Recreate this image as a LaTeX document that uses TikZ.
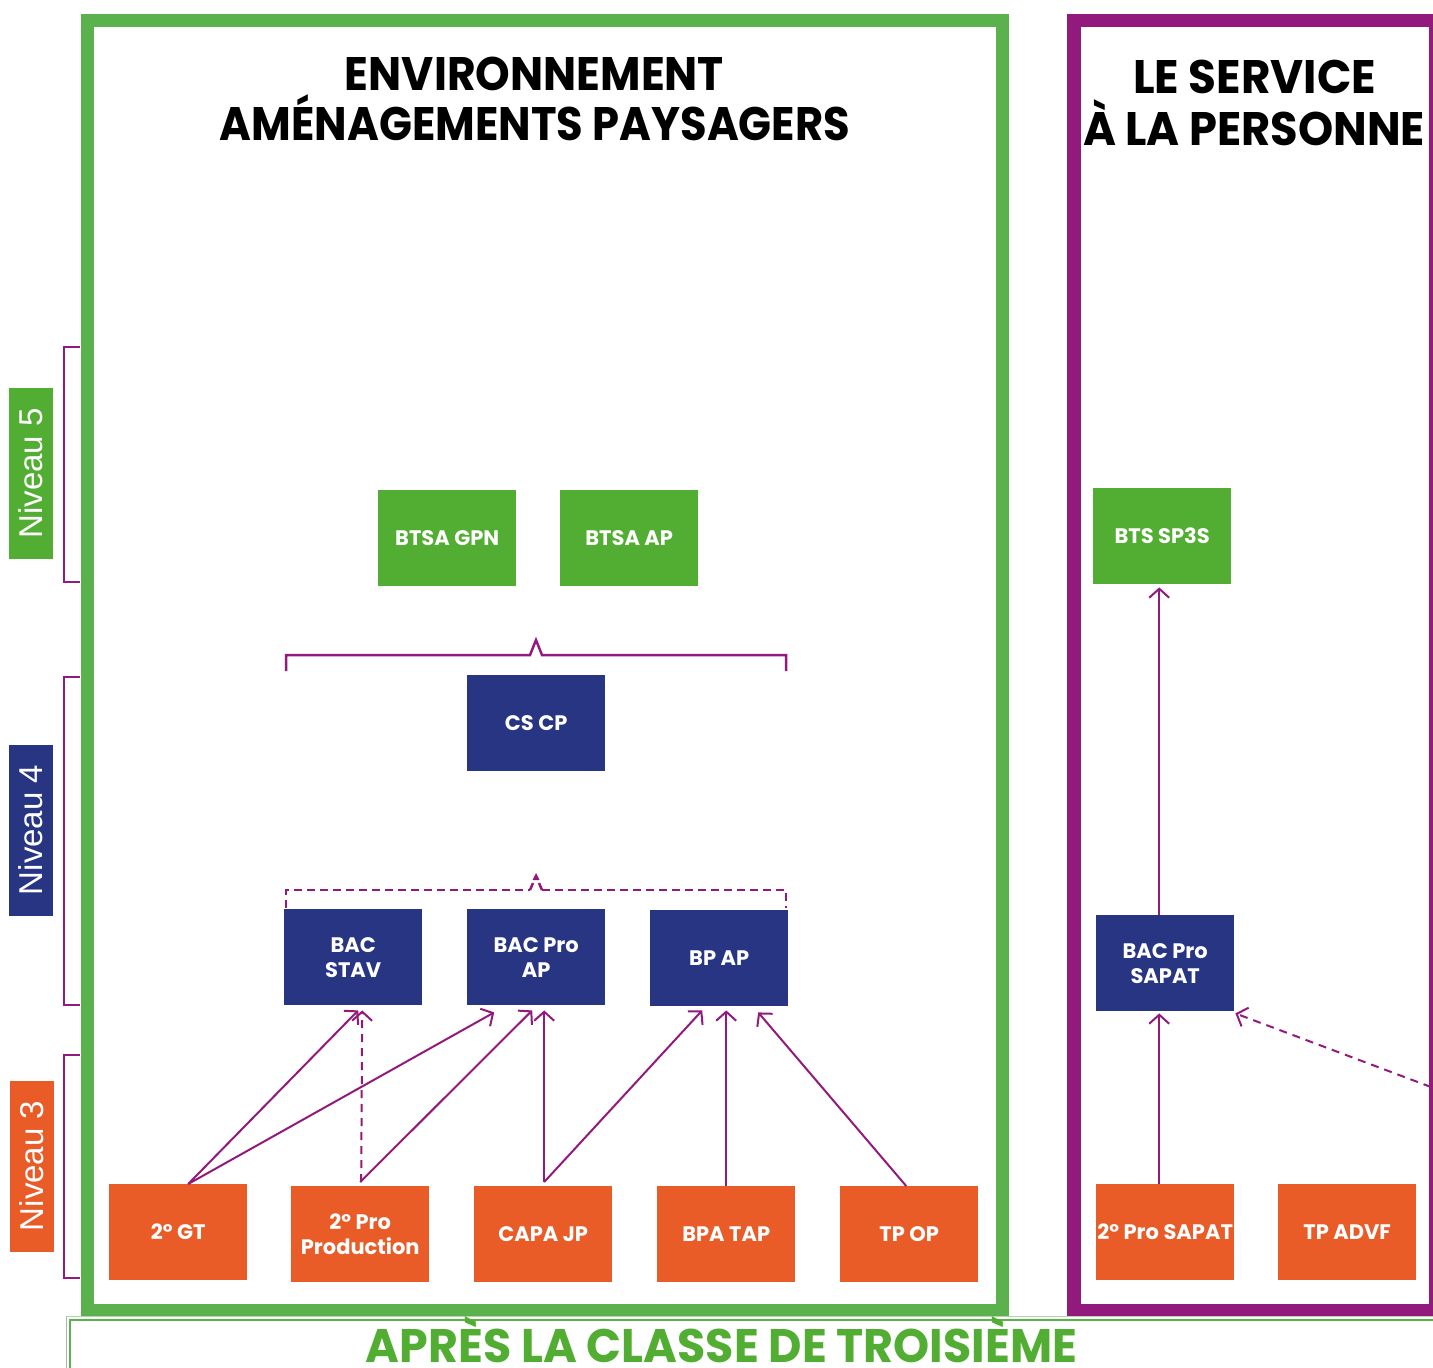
\documentclass[tikz,border=0pt]{standalone}
\usepackage{fontspec}
\setmainfont{Poppins}
\newfontfamily\nivfont{Liberation Sans}
\usetikzlibrary{arrows.meta,calc}
\definecolor{gframe}{RGB}{91,177,76}
\definecolor{gbox}{RGB}{82,174,50}
\definecolor{navy}{RGB}{40,53,131}
\definecolor{orng}{RGB}{233,91,39}
\definecolor{purp}{RGB}{146,26,125}
\newcommand{\fitw}[2]{\resizebox{#1}{\height}{#2}}
\newcommand{\ttlfont}{\fontsize{47}{47}\selectfont\bfseries}
\begin{document}
\begin{tikzpicture}[x=1pt,y=-1pt,
  box/.style={minimum width=138pt,minimum height=96pt,inner sep=0pt,text=white,
    font=\fontsize{21}{25}\selectfont\bfseries,align=center,anchor=north west},
  lvlfive/.style={box,fill=gbox},
  lvlfour/.style={box,fill=navy},
  lvlthree/.style={box,fill=orng},
  conn/.style={draw=purp,line width=2pt,-{Straight Barb[length=9pt,width=20pt,line width=2pt]}},
  dconn/.style={conn,dash pattern=on 8pt off 6pt},
  brk/.style={draw=purp,line width=2.5pt},
  niv/.style={minimum width=171pt,minimum height=44pt,inner sep=0pt,rotate=90,text=white,
    font=\nivfont\fontsize{33}{33}\selectfont}]
\useasboundingbox (0,0) rectangle (1433,1368);
\clip (0,0) rectangle (1433,1368);
\fill[white] (0,0) rectangle (1433,1368);

% frames
\draw[gframe,line width=13pt] (87.5,20.5) rectangle (1002,1310.5);
\draw[purp,line width=13.5pt] (1074,20.5) rectangle (1436,1310.5);

% bottom banner
\draw[gframe!50,line width=1pt] (66,1316) -- (1433,1316);
\draw[gframe,line width=1.5pt] (70,1380) -- (70,1320) -- (1433,1320);
\draw[gray!60,line width=0.8pt] (66,1316) -- (66,1380);
\node[anchor=base,text=gbox,inner sep=0pt] (banner) at (721.5,1362)
  {\fitw{711pt}{\fontsize{47}{50}\selectfont\bfseries APRÈS LA CLASSE DE TROISIÈME}};

% titles
\node[anchor=base,inner sep=0pt] (t1a) at (534.5,90) {\fitw{379pt}{\ttlfont ENVIRONNEMENT}};
\node[anchor=base,inner sep=0pt] (t1b) at (535,140) {\fitw{630pt}{\ttlfont AMÉNAGEMENTS PAYSAGERS}};
\node[anchor=base,inner sep=0pt] (t2a) at (1254.5,93) {\fitw{243pt}{\ttlfont LE SERVICE}};
\node[anchor=base,inner sep=0pt] (t2b) at (1254,145) {\fitw{342pt}{\ttlfont À LA PERSONNE}};

% niveau labels
\node[niv,fill=gbox] (n5) at (31,473.5) {Niveau 5};
\node[niv,fill=navy] (n4) at (31,830) {Niveau 4};
\node[niv,fill=orng] (n3) at (31.5,1166) {Niveau 3};
\draw[brk,line width=2pt] (80,347) -- (64,347) -- (64,582) -- (80,582);
\draw[brk,line width=2pt] (80,677) -- (64,677) -- (64,1005) -- (80,1005);
\draw[brk,line width=2pt] (80,1055) -- (64,1055) -- (64,1278) -- (80,1278);

% level 5
\node[lvlfive] (gpn) at (378,490) {BTSA GPN};
\node[lvlfive] (btsaap) at (560,490) {BTSA AP};
\node[lvlfive] (bts) at (1093,488) {BTS SP3S};

% level 4
\node[lvlfour] (cscp) at (467,675) {CS CP};
\node[lvlfour] (stav) at (284,909) {BAC\\STAV};
\node[lvlfour] (bacap) at (467,909) {BAC Pro\\AP};
\node[lvlfour] (bpap) at (650,910) {BP AP};
\node[lvlfour] (sapat) at (1096,915) {BAC Pro\\SAPAT};

% level 3
\node[lvlthree] (gt) at (109,1184) {2° GT};
\node[lvlthree] (prod) at (291,1186) {2° Pro\\Production};
\node[lvlthree] (capa) at (474,1186) {CAPA JP};
\node[lvlthree] (bpa) at (657,1186) {BPA TAP};
\node[lvlthree] (tpop) at (840,1186) {TP OP};
\node[lvlthree] (prosap) at (1096,1184) {2° Pro SAPAT};
\node[lvlthree] (advf) at (1278,1184) {TP ADVF};

% brackets
\draw[brk,line join=miter] (286,671) -- (286,655) -- (530,655) -- (536,640) -- (542,655) -- (786,655) -- (786,671);
\draw[brk,dash pattern=on 8pt off 5pt] (286,908) -- (286,890) -- (530,890);
\draw[brk,dash pattern=on 8pt off 5pt] (542,890) -- (786,890) -- (786,908);
\draw[brk] (530,890) -- (533,883);
\draw[brk] (542,890) -- (539,883);
\fill[purp] (532.5,880) -- (536,873) -- (539.5,880) -- cycle;

% connectors
\draw[conn] ($(gt.north)+(10,0)$) -- ($(stav.south)+(5,5)$);
\draw[conn] ($(gt.north)+(10,0)$) -- ($(bacap.south)+(-42,7)$);
\draw[dconn] ($(prod.north)+(1,-4)$) -- ($(stav.south)+(9,5)$);
\draw[conn] ($(prod.north)+(0,-4)$) -- ($(bacap.south)+(-4,5)$);
\draw[conn] ($(capa.north)+(1,-4)$) -- ($(bacap.south)+(8,5)$);
\draw[conn] ($(capa.north)+(1,-4)$) -- ($(bpap.south)+(-17,4)$);
\draw[conn] (bpa.north) -- ($(bpap.south)+(7,4)$);
\draw[conn] ($(tpop.north)+(-3,0)$) -- ($(bpap.south)+(39,6)$);
\draw[conn] ($(prosap.north)+(-6,0)$) -- ($(sapat.south)+(-6,2)$);
\draw[conn] ($(sapat.north)+(-6,0)$) -- ($(bts.south)+(-3,3)$);
\coordinate (redge) at (1431,1087);
\draw[dconn] (redge) -- ($(sapat.south east)+(1,2)$);
\end{tikzpicture}
\end{document}
